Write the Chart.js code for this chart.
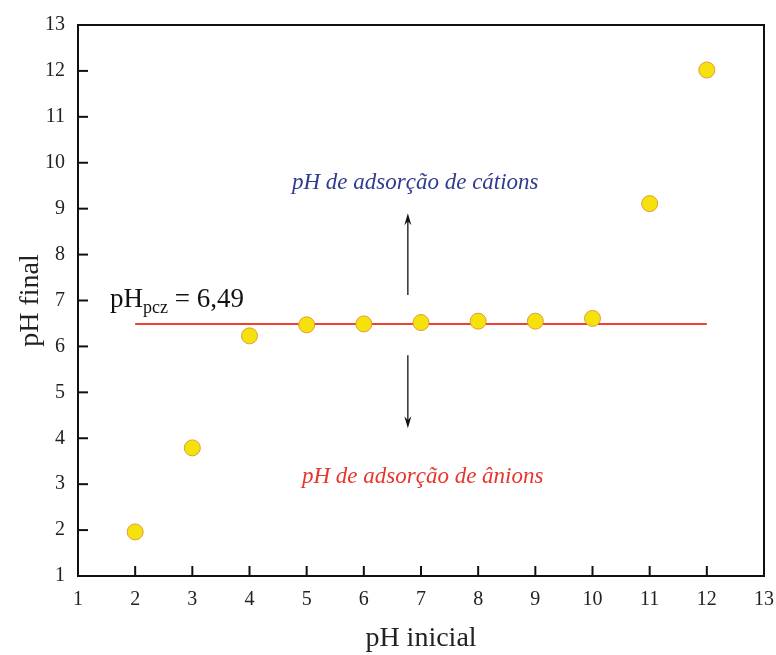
<!DOCTYPE html>
<html>
<head>
<meta charset="utf-8">
<script src="https://cdn.jsdelivr.net/npm/chart.js@4.4.0/dist/chart.umd.min.js"></script>
<style>
  html, body { margin: 0; padding: 0; background: #fff; }
  #wrap { width: 776px; height: 655px; }
</style>
</head>
<body>
<div id="wrap"><canvas id="c" width="776" height="655"></canvas></div>
<script>
// data
const phInicial = [2, 3, 4, 5, 6, 7, 8, 9, 10, 11, 12];
const phFinal = [1.96, 3.79, 6.23, 6.47, 6.49, 6.52, 6.55, 6.55, 6.61, 9.11, 12.02];
const phPcz = 6.49;
const pczRange = [2, 12];
const axisMin = 1;
const axisMax = 13;

const serif = '"Liberation Serif", "Times New Roman", serif';

// arrows and labels, positioned in data units
const arrowX = 6.77;
const arrowUp = [7.12, 8.9];
const arrowDown = [5.81, 4.22];

const extrasPlugin = {
    id: 'extras',
    afterDatasetsDraw(chart) {
        const ctx = chart.ctx;
        const xs = chart.scales.x;
        const ys = chart.scales.y;
        const a = chart.chartArea;
        ctx.save();

        // frame
        ctx.strokeStyle = '#111';
        ctx.lineWidth = 2;
        ctx.strokeRect(a.left, a.top, a.right - a.left, a.bottom - a.top);

        // inward ticks (bottom + left only)
        for (let v = axisMin + 1; v < axisMax; v++) {
            const px = xs.getPixelForValue(v);
            ctx.beginPath();
            ctx.moveTo(px, a.bottom);
            ctx.lineTo(px, a.bottom - 10);
            ctx.stroke();
            const py = ys.getPixelForValue(v);
            ctx.beginPath();
            ctx.moveTo(a.left, py);
            ctx.lineTo(a.left + 10, py);
            ctx.stroke();
        }

        // arrows
        function arrow(x, y0, y1) {
            const px = xs.getPixelForValue(x);
            const p0 = ys.getPixelForValue(y0);
            const p1 = ys.getPixelForValue(y1);
            const dir = p1 < p0 ? -1 : 1;
            ctx.strokeStyle = '#111';
            ctx.fillStyle = '#111';
            ctx.lineWidth = 1.3;
            ctx.beginPath();
            ctx.moveTo(px, p0);
            ctx.lineTo(px, p1 - dir * 4);
            ctx.stroke();
            ctx.beginPath();
            ctx.moveTo(px, p1);
            ctx.lineTo(px - 3.5, p1 - dir * 12);
            ctx.lineTo(px, p1 - dir * 8);
            ctx.lineTo(px + 3.5, p1 - dir * 12);
            ctx.closePath();
            ctx.fill();
        }
        arrow(arrowX, arrowUp[0], arrowUp[1]);
        arrow(arrowX, arrowDown[0], arrowDown[1]);

        // region labels
        ctx.textAlign = 'center';
        ctx.textBaseline = 'middle';
        ctx.font = 'italic 23px ' + serif;
        ctx.fillStyle = '#2f3c8f';
        ctx.fillText('pH de adsorção de cátions', xs.getPixelForValue(6.9), ys.getPixelForValue(9.55));
        ctx.fillStyle = '#e8352b';
        ctx.fillText('pH de adsorção de ânions', xs.getPixelForValue(7.03), ys.getPixelForValue(3.15));

        // pHpcz label
        ctx.fillStyle = '#111';
        ctx.textAlign = 'left';
        ctx.textBaseline = 'alphabetic';
        let tx = xs.getPixelForValue(1.56);
        const ty = ys.getPixelForValue(6.86);
        ctx.font = '27px ' + serif;
        ctx.fillText('pH', tx, ty);
        tx += ctx.measureText('pH').width;
        ctx.font = '18px ' + serif;
        ctx.fillText('pcz', tx, ty + 6);
        tx += ctx.measureText('pcz').width;
        ctx.font = '27px ' + serif;
        ctx.fillText(' = 6,49', tx, ty);

        ctx.restore();
    }
};

new Chart(document.getElementById('c'), {
    type: 'scatter',
    data: {
        datasets: [{
            label: 'pHpcz',
            type: 'line',
            data: pczRange.map(x => ({ x: x, y: phPcz })),
            borderColor: '#f0402e',
            borderWidth: 2,
            pointRadius: 0,
            fill: false,
            order: 2
        }, {
            label: 'pH final',
            data: phInicial.map((x, i) => ({ x: x, y: phFinal[i] })),
            backgroundColor: '#f5e20c',
            borderColor: '#e39a3a',
            borderWidth: 1,
            pointRadius: 8,
            order: 1
        }]
    },
    options: {
        responsive: false,
        animation: false,
        layout: { padding: { top: 25, right: 0, left: 0, bottom: 0 } },
        plugins: {
            legend: { display: false },
            tooltip: { enabled: false }
        },
        scales: {
            x: {
                type: 'linear',
                min: axisMin,
                max: axisMax,
                afterFit(scale) {
                    scale.height = 79;
                    scale.paddingRight = 12;
                    scale.paddingLeft = 0;
                },
                grid: { display: false, drawTicks: false },
                border: { display: false },
                ticks: {
                    stepSize: 1,
                    padding: 12,
                    color: '#222',
                    font: { family: serif, size: 20 }
                },
                title: {
                    display: true,
                    text: 'pH inicial',
                    color: '#222',
                    padding: { top: 10, bottom: 0 },
                    font: { family: serif, size: 28 }
                }
            },
            y: {
                type: 'linear',
                min: axisMin,
                max: axisMax,
                afterFit(scale) { scale.width = 78; },
                grid: { display: false, drawTicks: false },
                border: { display: false },
                ticks: {
                    stepSize: 1,
                    padding: 13,
                    color: '#222',
                    font: { family: serif, size: 20 }
                },
                title: {
                    display: true,
                    text: 'pH final',
                    color: '#222',
                    padding: { top: 14, bottom: 0 },
                    font: { family: serif, size: 28 }
                }
            }
        }
    },
    plugins: [extrasPlugin]
});
</script>
</body>
</html>
